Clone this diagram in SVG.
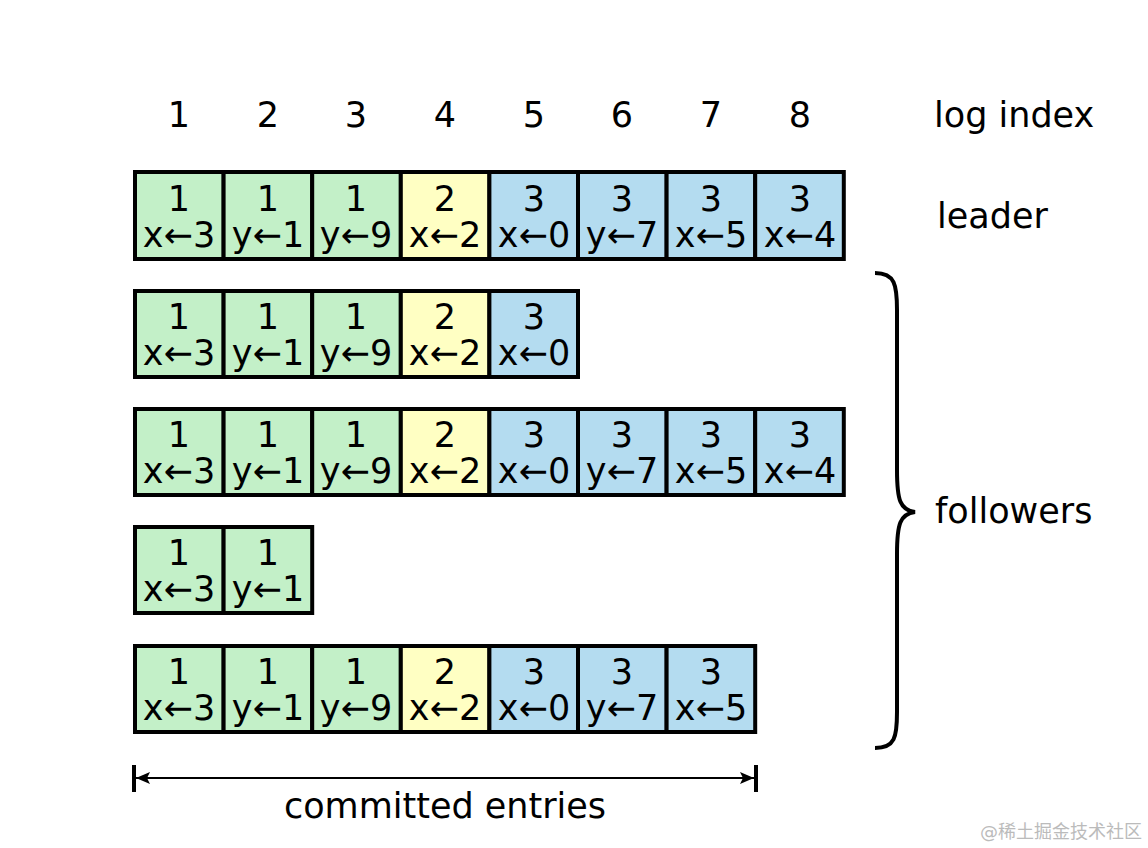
<svg xmlns="http://www.w3.org/2000/svg" width="1148" height="848" viewBox="0 0 1148 848">
<style>
text{font-family:"DejaVu Sans","Noto Sans CJK SC",sans-serif;fill:#000}
.t{font-size:35px;text-anchor:middle}
.lbl{font-size:35px}
.c rect{stroke:#000;stroke-width:4}
.g{fill:#c3f0c8}.y{fill:#ffffc3}.b{fill:#b4dcf0}
.wm{font-size:18px;fill:#bbb}
</style>
<defs>
<marker id="ah2" viewBox="0 0 14 12" refX="14" refY="6" markerWidth="14" markerHeight="12" markerUnits="userSpaceOnUse" orient="auto-start-reverse"><path d="M0,0 L14,6 L0,12 L3,6 z" fill="#000"/></marker>
</defs>
<rect width="1148" height="848" fill="#fff"/>
<g id="header">
<text class="t" x="179" y="127">1</text>
<text class="t" x="268" y="127">2</text>
<text class="t" x="356" y="127">3</text>
<text class="t" x="445" y="127">4</text>
<text class="t" x="534" y="127">5</text>
<text class="t" x="622" y="127">6</text>
<text class="t" x="711" y="127">7</text>
<text class="t" x="800" y="127">8</text>
<text class="lbl" x="934" y="127">log index</text>
<text class="lbl" x="937" y="228">leader</text>
<text class="lbl" x="935" y="523">followers</text>
</g>
<g id="leader" class="c">
<rect class="g" x="135" y="172" width="88.6" height="87"/>
<rect class="g" x="223.6" y="172" width="88.6" height="87"/>
<rect class="g" x="312.2" y="172" width="88.6" height="87"/>
<rect class="y" x="400.8" y="172" width="88.6" height="87"/>
<rect class="b" x="489.4" y="172" width="88.6" height="87"/>
<rect class="b" x="578" y="172" width="88.6" height="87"/>
<rect class="b" x="666.6" y="172" width="88.6" height="87"/>
<rect class="b" x="755.2" y="172" width="88.6" height="87"/>
<text class="t"><tspan x="179" y="211">1</tspan><tspan x="179" y="247">x←3</tspan></text>
<text class="t"><tspan x="268" y="211">1</tspan><tspan x="268" y="247">y←1</tspan></text>
<text class="t"><tspan x="356" y="211">1</tspan><tspan x="356" y="247">y←9</tspan></text>
<text class="t"><tspan x="445" y="211">2</tspan><tspan x="445" y="247">x←2</tspan></text>
<text class="t"><tspan x="534" y="211">3</tspan><tspan x="534" y="247">x←0</tspan></text>
<text class="t"><tspan x="622" y="211">3</tspan><tspan x="622" y="247">y←7</tspan></text>
<text class="t"><tspan x="711" y="211">3</tspan><tspan x="711" y="247">x←5</tspan></text>
<text class="t"><tspan x="800" y="211">3</tspan><tspan x="800" y="247">x←4</tspan></text>
</g>
<g id="follower1" class="c">
<rect class="g" x="135" y="291" width="88.6" height="86"/>
<rect class="g" x="223.6" y="291" width="88.6" height="86"/>
<rect class="g" x="312.2" y="291" width="88.6" height="86"/>
<rect class="y" x="400.8" y="291" width="88.6" height="86"/>
<rect class="b" x="489.4" y="291" width="88.6" height="86"/>
<text class="t"><tspan x="179" y="329">1</tspan><tspan x="179" y="365">x←3</tspan></text>
<text class="t"><tspan x="268" y="329">1</tspan><tspan x="268" y="365">y←1</tspan></text>
<text class="t"><tspan x="356" y="329">1</tspan><tspan x="356" y="365">y←9</tspan></text>
<text class="t"><tspan x="445" y="329">2</tspan><tspan x="445" y="365">x←2</tspan></text>
<text class="t"><tspan x="534" y="329">3</tspan><tspan x="534" y="365">x←0</tspan></text>
</g>
<g id="follower2" class="c">
<rect class="g" x="135" y="409" width="88.6" height="86"/>
<rect class="g" x="223.6" y="409" width="88.6" height="86"/>
<rect class="g" x="312.2" y="409" width="88.6" height="86"/>
<rect class="y" x="400.8" y="409" width="88.6" height="86"/>
<rect class="b" x="489.4" y="409" width="88.6" height="86"/>
<rect class="b" x="578" y="409" width="88.6" height="86"/>
<rect class="b" x="666.6" y="409" width="88.6" height="86"/>
<rect class="b" x="755.2" y="409" width="88.6" height="86"/>
<text class="t"><tspan x="179" y="447">1</tspan><tspan x="179" y="483">x←3</tspan></text>
<text class="t"><tspan x="268" y="447">1</tspan><tspan x="268" y="483">y←1</tspan></text>
<text class="t"><tspan x="356" y="447">1</tspan><tspan x="356" y="483">y←9</tspan></text>
<text class="t"><tspan x="445" y="447">2</tspan><tspan x="445" y="483">x←2</tspan></text>
<text class="t"><tspan x="534" y="447">3</tspan><tspan x="534" y="483">x←0</tspan></text>
<text class="t"><tspan x="622" y="447">3</tspan><tspan x="622" y="483">y←7</tspan></text>
<text class="t"><tspan x="711" y="447">3</tspan><tspan x="711" y="483">x←5</tspan></text>
<text class="t"><tspan x="800" y="447">3</tspan><tspan x="800" y="483">x←4</tspan></text>
</g>
<g id="follower3" class="c">
<rect class="g" x="135" y="527" width="88.6" height="86"/>
<rect class="g" x="223.6" y="527" width="88.6" height="86"/>
<text class="t"><tspan x="179" y="565">1</tspan><tspan x="179" y="601">x←3</tspan></text>
<text class="t"><tspan x="268" y="565">1</tspan><tspan x="268" y="601">y←1</tspan></text>
</g>
<g id="follower4" class="c">
<rect class="g" x="135" y="646" width="88.6" height="86"/>
<rect class="g" x="223.6" y="646" width="88.6" height="86"/>
<rect class="g" x="312.2" y="646" width="88.6" height="86"/>
<rect class="y" x="400.8" y="646" width="88.6" height="86"/>
<rect class="b" x="489.4" y="646" width="88.6" height="86"/>
<rect class="b" x="578" y="646" width="88.6" height="86"/>
<rect class="b" x="666.6" y="646" width="88.6" height="86"/>
<text class="t"><tspan x="179" y="684">1</tspan><tspan x="179" y="720">x←3</tspan></text>
<text class="t"><tspan x="268" y="684">1</tspan><tspan x="268" y="720">y←1</tspan></text>
<text class="t"><tspan x="356" y="684">1</tspan><tspan x="356" y="720">y←9</tspan></text>
<text class="t"><tspan x="445" y="684">2</tspan><tspan x="445" y="720">x←2</tspan></text>
<text class="t"><tspan x="534" y="684">3</tspan><tspan x="534" y="720">x←0</tspan></text>
<text class="t"><tspan x="622" y="684">3</tspan><tspan x="622" y="720">y←7</tspan></text>
<text class="t"><tspan x="711" y="684">3</tspan><tspan x="711" y="720">x←5</tspan></text>
</g>
<g id="connectors" fill="none" stroke="#000">
<path d="M875,273 C895,273 897,285 897,310 L897,470 C897,500 900,510 915,512 C900,514 897,524 897,554 L897,712 C897,737 895,748 875,748" stroke-width="4"/>
<line x1="134" y1="765" x2="134" y2="792" stroke-width="4"/>
<line x1="756" y1="765" x2="756" y2="792" stroke-width="4"/>
<line x1="136" y1="778" x2="754" y2="778" stroke-width="2" marker-start="url(#ah2)" marker-end="url(#ah2)"/>
</g>
<text class="t" x="445" y="818">committed entries</text>
<text class="wm" x="980" y="838">@稀土掘金技术社区</text>
</svg>
